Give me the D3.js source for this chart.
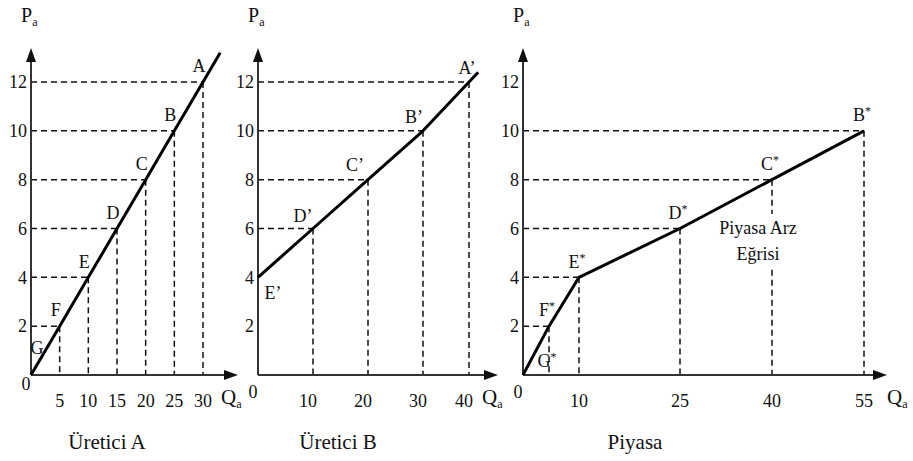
<!DOCTYPE html>
<html>
<head>
<meta charset="utf-8">
<script src="https://cdn.jsdelivr.net/npm/d3@7"></script>
<style>
  body { margin: 0; background: #fff; }
</style>
</head>
<body>
<svg id="chart" width="913" height="461" font-family="Liberation Serif"></svg>
<script>
// y ticks (shared)
var yTicks = [2, 4, 6, 8, 10, 12];

// Üretici A
var qA = [0, 5, 10, 15, 20, 25, 30],
    pA = [0, 2, 4, 6, 8, 10, 12],
    namesA = ["G", "F", "E", "D", "C", "B", "A"],
    xTicksA = [5, 10, 15, 20, 25, 30],
    endA = [33, 13.2];

// Üretici B
var qB = [0, 10, 20, 30, 40],
    pB = [4, 6, 8, 10, 12],
    namesB = ["E’", "D’", "C’", "B’", "A’"],
    xTicksB = [10, 20, 30, 40],
    endB = [42, 12.4];

// Piyasa
var qM = [0, 5, 10, 25, 40, 55],
    pM = [0, 2, 4, 6, 8, 10],
    namesM = ["G", "F", "E", "D", "C", "B"],
    xTicksM = [10, 25, 40, 55];

var svg = d3.select("#chart");
var y = d3.scaleLinear().domain([0, 12]).range([375, 82]);
var yTop = 48;

var line = d3.line()
    .x(function (d) { return d.x; })
    .y(function (d) { return d.y; });

function drawPanel(opt) {
    var g = svg.append("g").attr("fill", "#111");
    var x = opt.x;
    var x0 = x(0), y0 = y(0);
    var pts = opt.q.map(function (q, i) {
        return { q: q, p: opt.p[i], name: opt.names[i] };
    });

    // dashed guides
    var guides = pts.filter(function (d) { return d.q > 0; });
    g.selectAll(".hg").data(guides).enter().append("line")
        .attr("x1", x0).attr("x2", function (d) { return x(d.q); })
        .attr("y1", function (d) { return y(d.p); })
        .attr("y2", function (d) { return y(d.p); })
        .attr("stroke", "#111").attr("stroke-width", 1.5)
        .attr("stroke-dasharray", "6,4");
    g.selectAll(".vg").data(guides).enter().append("line")
        .attr("x1", function (d) { return x(d.q); })
        .attr("x2", function (d) { return x(d.q); })
        .attr("y1", function (d) { return y(d.p); })
        .attr("y2", y0)
        .attr("stroke", "#111").attr("stroke-width", 1.5)
        .attr("stroke-dasharray", "6,4");

    // axes
    g.append("line").attr("x1", x0).attr("x2", x0)
        .attr("y1", y0).attr("y2", yTop + 10)
        .attr("stroke", "#333").attr("stroke-width", 2);
    g.append("path")
        .attr("d", "M" + x0 + "," + yTop + "L" + (x0 - 5) + "," + (yTop + 14) + "L" + (x0 + 5) + "," + (yTop + 14) + "Z")
        .attr("fill", "#111");
    g.append("line").attr("x1", x0).attr("x2", opt.xEnd - 10)
        .attr("y1", y0).attr("y2", y0)
        .attr("stroke", "#333").attr("stroke-width", 2);
    g.append("path")
        .attr("d", "M" + opt.xEnd + "," + y0 + "L" + (opt.xEnd - 14) + "," + (y0 - 5) + "L" + (opt.xEnd - 14) + "," + (y0 + 5) + "Z")
        .attr("fill", "#111");

    // y tick labels
    g.selectAll(".yt").data(yTicks).enter().append("text")
        .attr("x", x0 - 4).attr("y", function (d) { return y(d); })
        .attr("dy", "0.35em").attr("text-anchor", "end")
        .attr("font-size", 18)
        .text(function (d) { return d; });

    // x tick labels
    g.selectAll(".xt").data(opt.xTicks).enter().append("text")
        .attr("x", function (d) { return x(d) + (opt.tickShift || 0); })
        .attr("y", 407).attr("text-anchor", "middle")
        .attr("font-size", 18)
        .text(function (d) { return d; });
    g.append("text").attr("x", x0 - 5).attr("y", opt.zeroY)
        .attr("text-anchor", "middle").attr("font-size", 18).text("0");

    // axis names
    var pa = g.append("text").attr("x", x0 - 10).attr("y", 22).attr("font-size", 20);
    pa.append("tspan").text("P");
    pa.append("tspan").attr("font-size", 12).attr("dy", 4).text("a");
    var qa = g.append("text").attr("x", opt.qX).attr("y", 404).attr("font-size", 21);
    qa.append("tspan").text("Q");
    qa.append("tspan").attr("font-size", 12).attr("dy", 4).text("a");

    // curve
    var cpts = pts.map(function (d) { return { x: x(d.q), y: y(d.p) }; });
    if (opt.end) cpts.push({ x: x(opt.end[0]), y: y(opt.end[1]) });
    g.append("path").datum(cpts)
        .attr("d", line)
        .attr("fill", "none").attr("stroke", "#000")
        .attr("stroke-width", 3).attr("stroke-linejoin", "round");

    // point labels
    var lab = g.selectAll(".pl").data(pts).enter().append("text")
        .attr("x", function (d, i) { return x(d.q) + opt.off(d, i)[0]; })
        .attr("y", function (d, i) { return y(d.p) + opt.off(d, i)[1]; })
        .attr("dy", "0.35em").attr("text-anchor", "middle")
        .attr("font-size", 18);
    lab.append("tspan").text(function (d) { return d.name; });
    if (opt.star) {
        lab.append("tspan").attr("font-size", 12).attr("dy", -6).text("*");
    }

    // title
    g.append("text").attr("x", opt.titleX).attr("y", 449)
        .attr("text-anchor", "middle").attr("font-size", 21)
        .text(opt.title);
    return g;
}

drawPanel({
    x: d3.scaleLinear().domain([0, 30]).range([31, 203]),
    q: qA, p: pA, names: namesA, xTicks: xTicksA, end: endA,
    xEnd: 238, qX: 221, zeroY: 390, titleX: 107, title: "Üretici A",
    off: function (d) { return d.q === 0 ? [6, -27] : [-4, -16]; }
});

var offB = [[15, 15], [-10, -13], [-13, -15], [-9, -14], [-2, -14]];
drawPanel({
    x: d3.scaleLinear().domain([0, 10, 20, 30, 40]).range([258, 313, 368, 423, 469]),
    q: qB, p: pB, names: namesB, xTicks: xTicksB, end: endB,
    xEnd: 498, qX: 482, zeroY: 398, titleX: 338, title: "Üretici B",
    tickShift: -5,
    off: function (d, i) { return offB[i]; }
});

var gm = drawPanel({
    x: d3.scaleLinear().domain([0, 5, 10, 25, 40, 55]).range([523, 549, 579, 680, 772, 864]),
    q: qM, p: pM, names: namesM, xTicks: xTicksM, star: true,
    xEnd: 887, qX: 887, zeroY: 398, titleX: 635, title: "Piyasa",
    off: function (d) { return d.q === 0 ? [24, -14] : [-2, -16]; }
});

// curve name, with white backing over the guide
gm.append("rect").attr("x", 712).attr("y", 214).attr("width", 92).attr("height", 52).attr("fill", "#fff");
gm.append("text").attr("x", 758).attr("y", 234).attr("text-anchor", "middle")
    .attr("font-size", 18).text("Piyasa Arz");
gm.append("text").attr("x", 758).attr("y", 260).attr("text-anchor", "middle")
    .attr("font-size", 18).text("Eğrisi");
</script>
</body>
</html>
